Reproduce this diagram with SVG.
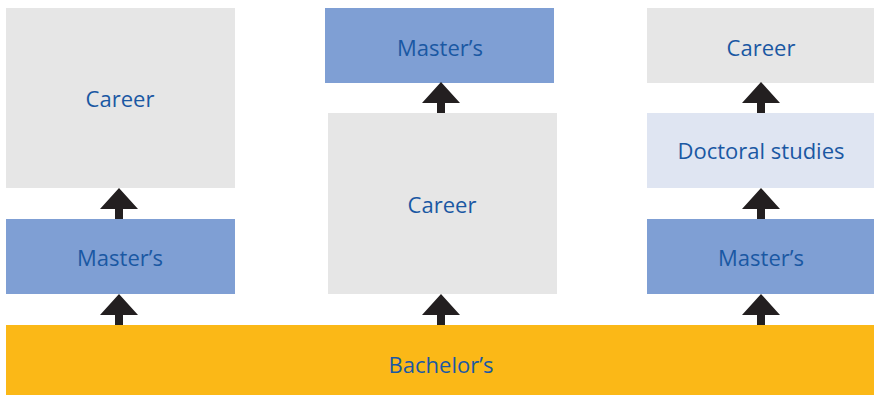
<svg xmlns="http://www.w3.org/2000/svg" width="874" height="395" viewBox="0 0 874 395">
<style>
.gray{fill:#E6E6E6}
.blue{fill:#7F9FD4}
.light{fill:#DFE5F2}
.yellow{fill:#FBB817}
text{font-family:"Open Sans","Liberation Sans",sans-serif;font-size:22px;fill:#1A58A3;text-anchor:middle}
.arrow{fill:#231F20}
</style>
<defs>
<path id="arr" d="M0,0 L19,21 L4,21 L4,31 L-4,31 L-4,21 L-19,21 Z"/>
</defs>
<rect width="874" height="395" fill="#FFFFFF"/>
<g id="bachelors"><rect class="yellow" x="6" y="325" width="868" height="70"/><text x="441" y="373">Bachelor’s</text></g>
<g id="left-masters"><rect class="blue" x="6" y="219" width="229" height="75"/><text x="120" y="266">Master’s</text></g>
<g id="left-career"><rect class="gray" x="6" y="8" width="229" height="180"/><text x="120" y="107">Career</text></g>
<g id="mid-career"><rect class="gray" x="328" y="113" width="229" height="181"/><text x="442" y="213">Career</text></g>
<g id="mid-masters"><rect class="blue" x="325" y="8" width="229" height="75"/><text x="440" y="56">Master’s</text></g>
<g id="right-masters"><rect class="blue" x="647" y="219" width="227" height="75"/><text x="761" y="266">Master’s</text></g>
<g id="right-doctoral"><rect class="light" x="647" y="113" width="227" height="75"/><text x="761" y="159">Doctoral studies</text></g>
<g id="right-career"><rect class="gray" x="647" y="8" width="227" height="75"/><text x="761" y="56">Career</text></g>
<g id="connectors" class="arrow">
<use href="#arr" x="119" y="188"/>
<use href="#arr" x="119" y="294"/>
<use href="#arr" x="441" y="82"/>
<use href="#arr" x="441" y="294"/>
<use href="#arr" x="761" y="82"/>
<use href="#arr" x="761" y="188"/>
<use href="#arr" x="761" y="294"/>
</g>
</svg>
